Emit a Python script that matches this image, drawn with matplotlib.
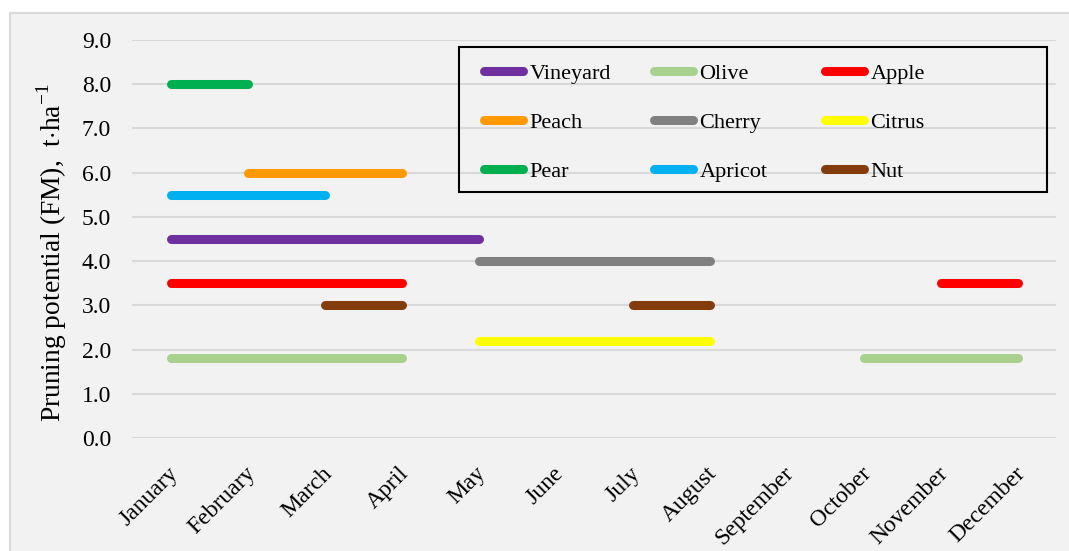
import numpy as np
import matplotlib
matplotlib.use('Agg')
import matplotlib.pyplot as plt
import matplotlib.transforms as mtransforms
from matplotlib.patches import Rectangle
from matplotlib.legend import Legend

plt.rcParams['font.family'] = ['Liberation Serif', 'DejaVu Serif']
plt.rcParams['mathtext.fontset'] = 'custom'
plt.rcParams['mathtext.rm'] = 'Liberation Serif'

months = ['January', 'February', 'March', 'April', 'May', 'June', 'July',
          'August', 'September', 'October', 'November', 'December']

# pruning potential per month (None = no pruning that month)
vineyard = [4.5, 4.5, 4.5, 4.5, 4.5, None, None, None, None, None, None, None]
olive = [1.8, 1.8, 1.8, 1.8, None, None, None, None, None, 1.8, 1.8, 1.8]
apple = [3.5, 3.5, 3.5, 3.5, None, None, None, None, None, None, 3.5, 3.5]
peach = [None, 6.0, 6.0, 6.0, None, None, None, None, None, None, None, None]
cherry = [None, None, None, None, 4.0, 4.0, 4.0, 4.0, None, None, None, None]
citrus = [None, None, None, None, 2.2, 2.2, 2.2, 2.2, None, None, None, None]
pear = [8.0, 8.0, None, None, None, None, None, None, None, None, None, None]
apricot = [5.5, 5.5, 5.5, None, None, None, None, None, None, None, None, None]
nut = [None, None, 3.0, 3.0, None, None, 3.0, 3.0, None, None, None, None]

series = [
    ('Vineyard', vineyard, '#7030a0'),
    ('Olive', olive, '#a9d18e'),
    ('Apple', apple, '#ff0000'),
    ('Peach', peach, '#ff9900'),
    ('Cherry', cherry, '#808080'),
    ('Citrus', citrus, '#ffff00'),
    ('Pear', pear, '#00b050'),
    ('Apricot', apricot, '#00b0f0'),
    ('Nut', nut, '#843c0c'),
]

W, H = 1069, 551
AX_L, AX_R, AX_T, AX_B = 132, 1056, 40, 438


def to_ax(px, py):
    # pixel position -> axes fraction
    return (px - AX_L) / (AX_R - AX_L), (AX_B - py) / (AX_B - AX_T)


bg = '#f2f2f2'
fig = plt.figure(figsize=(W / 100, H / 100), dpi=100)
fig.patch.set_facecolor('white')
fig.add_artist(Rectangle((10 / W, -0.05), 1.1, 1 - 13 / H + 0.05,
                         transform=fig.transFigure, facecolor=bg,
                         edgecolor='#d9d9d9', linewidth=1.5, zorder=-10))

ax = fig.add_axes([AX_L / W, 1 - AX_B / H, (AX_R - AX_L) / W, (AX_B - AX_T) / H])
ax.set_facecolor(bg)

x = np.arange(len(months))
lines = {}
for name, vals, color in series:
    y = np.array([np.nan if v is None else v for v in vals])
    ln, = ax.plot(x, y, color=color, linewidth=6.5, solid_capstyle='round',
                  label=name, zorder=3)
    lines[name] = ln

ax.set_xlim(-0.5, len(months) - 0.5)
ax.set_ylim(0, 9)
yt = np.arange(0, 9.1, 1.0)
ax.set_yticks(yt)
ax.set_yticklabels([f'{v:.1f}' for v in yt], fontsize=17)
ax.set_xticks(x)
ax.set_xticklabels(months, rotation=45, ha='right', rotation_mode='anchor',
                   fontsize=17)
ax.tick_params(axis='both', length=0)
ax.tick_params(axis='y', pad=15)
ax.tick_params(axis='x', pad=18)
shift = mtransforms.ScaledTranslation(-3 / 100, 0, fig.dpi_scale_trans)
for lab in ax.get_xticklabels():
    lab.set_transform(lab.get_transform() + shift)
ax.grid(axis='y', color='#d9d9d9', linewidth=1.5, zorder=0)
ax.set_axisbelow(True)
for s in ax.spines.values():
    s.set_visible(False)

ax.set_ylabel(r'Pruning potential (FM),  t$\cdot$ha$^{\mathregular{-1}}$',
              fontsize=19.8)
ax.yaxis.set_label_coords((69 - AX_L) / (AX_R - AX_L), 0.465)

# legend box (Excel style, no fill)
bx0, by0 = to_ax(459, 192)
bx1, by1 = to_ax(1047, 47)
ax.add_patch(Rectangle((bx0, by0), bx1 - bx0, by1 - by0, transform=ax.transAxes,
                       facecolor='none', edgecolor='black', linewidth=1.5,
                       zorder=5, clip_on=False))

columns = [['Vineyard', 'Peach', 'Pear'],
           ['Olive', 'Cherry', 'Apricot'],
           ['Apple', 'Citrus', 'Nut']]
col_x = [484, 654, 825]
for names, cx in zip(columns, col_x):
    leg = Legend(ax, [lines[n] for n in names], names, loc='upper left',
                 bbox_to_anchor=to_ax(cx, 63), fontsize=16, frameon=False,
                 handlelength=1.75, handletextpad=0.3, labelspacing=1.28,
                 borderpad=0, borderaxespad=0)
    ax.add_artist(leg)

fig.savefig('out.png', dpi=100, facecolor=fig.get_facecolor())
